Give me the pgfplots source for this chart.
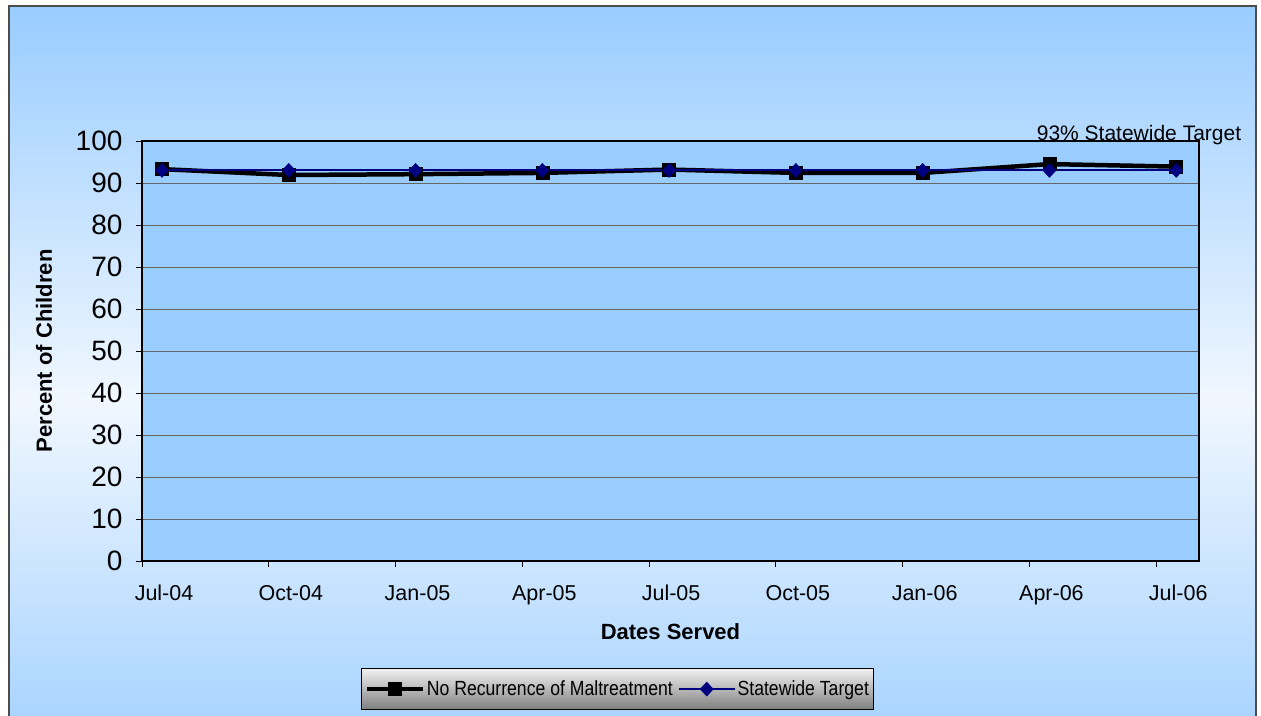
\documentclass[border=0pt]{standalone}
\usepackage{pgfplots}
\pgfplotsset{compat=1.18}
\usepackage{fontspec}
\setmainfont{Liberation Sans}
\newfontfamily\legfont[FakeStretch=0.86]{Liberation Sans}
\definecolor{plotblue}{HTML}{99CCFF}
\definecolor{bgblue}{HTML}{99CCFF}
\definecolor{bglight}{HTML}{F0F7FF}
\definecolor{navyc}{HTML}{000080}
\begin{document}
\begin{tikzpicture}
\useasboundingbox (0pt,0pt) rectangle (1261pt,715pt);
\fill[white] (0pt,0pt) rectangle (1261pt,715pt);
\shade[top color=bgblue, bottom color=bgblue, middle color=bglight] (9pt,-79pt) rectangle (1256pt,709pt);
\draw[black!70, line width=1.3pt] (9pt,-10pt) |- (1256pt,709pt) -- (1256pt,-10pt);
\begin{axis}[
  at={(142pt,154pt)}, anchor=south west,
  scale only axis, width=1057pt, height=420pt,
  xmin=-0.158, xmax=8.18, ymin=0, ymax=100,
  axis background/.style={fill=plotblue},
  axis line style={line width=1.5pt},
  /pgf/number format/assume math mode=true,
  ytick={0,10,...,100},
  ymajorgrids, grid style={color=black!60, line width=0.7pt},
  tick align=outside, major tick length=6pt,
  xtick pos=bottom, ytick pos=left,
  tick style={black, line width=0.8pt},
  xtick={-0.158,0.842,1.842,2.842,3.842,4.842,5.842,6.842,7.842},
  xticklabels={},
  extra x ticks={0,1,2,3,4,5,6,7,8},
  extra x tick labels={Jul-04,Oct-04,Jan-05,Apr-05,Jul-05,Oct-05,Jan-06,Apr-06,Jul-06},
  extra x tick style={major tick length=0pt},
  xticklabel style={font=\fontsize{21.5}{25}\selectfont, anchor=base, yshift=-39pt, xshift=2pt},
  yticklabel style={font=\fontsize{28}{32}\selectfont, xshift=-10pt},
  xlabel={Dates Served},
  xlabel style={font=\bfseries\fontsize{22}{26}\selectfont, at={(axis description cs:0.5,-0.169)}, anchor=center},
  ylabel={Percent of Children},
  ylabel style={font=\bfseries\fontsize{22}{26}\selectfont, at={(axis description cs:-0.0927,0.5)}, anchor=center},
  legend columns=2,
  legend style={at={(0.45,-0.305)}, anchor=center, draw=black, line width=1pt,
    top color=black!6, bottom color=black!50,
    font=\legfont\fontsize{20.5}{23}\selectfont, inner xsep=3pt, inner ysep=10pt,
    /tikz/every even column/.append style={column sep=3pt}},
  legend image code/.code={\draw[mark repeat=2,mark phase=2,#1] plot coordinates {(0pt,0pt) (28pt,0pt) (56pt,0pt)};},
]
\addplot[black, line width=4.5pt, mark=square*, mark size=6.5pt, mark options={solid, line width=0.5pt}]
  coordinates {(0,93.3)(1,91.9)(2,92.1)(3,92.4)(4,93.2)(5,92.4)(6,92.4)(7,94.5)(8,93.9)};
\addlegendentry{No Recurrence of Maltreatment}
\addplot[navyc, line width=1.8pt, mark=diamond*, mark size=7pt, mark options={solid, xscale=1.25, line width=0.5pt}]
  coordinates {(0,93)(1,93)(2,93)(3,93)(4,93)(5,93)(6,93)(7,93)(8,93)};
\addlegendentry{Statewide Target}
\end{axis}
\node[anchor=base, font=\fontsize{21}{25}\selectfont, inner sep=0pt] at (1139pt,574pt) {93\% Statewide Target};
\end{tikzpicture}
\end{document}
